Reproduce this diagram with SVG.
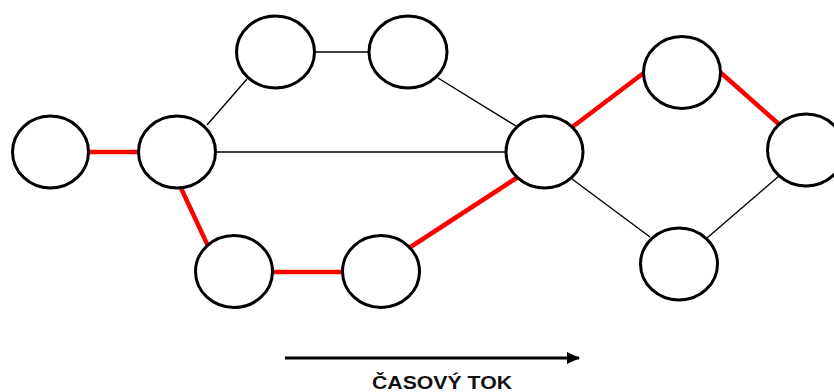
<svg xmlns="http://www.w3.org/2000/svg" width="834" height="392" viewBox="0 0 834 392">
<defs>
<style>
.node{fill:#fff;stroke:#000;stroke-width:3}
.red{stroke:#f00;stroke-width:4.5;fill:none}
.thin{stroke:#000;stroke-width:1.4;fill:none}
.lbl{font-family:"Liberation Sans",Arial,sans-serif;font-weight:bold;font-size:18px;fill:#111}
</style>
<marker id="ah" markerWidth="13" markerHeight="13" refX="12" refY="6.5" orient="auto" markerUnits="userSpaceOnUse"><path d="M0,0.5 L13,6.5 L0,12.5 Z" fill="#000"/></marker>
</defs>
<rect width="834" height="392" fill="#fff"/>
<g id="connectors">
<line class="red" x1="50" y1="152" x2="177" y2="152"/>
<line class="thin" x1="207" y1="125" x2="247" y2="79"/>
<line class="thin" x1="275" y1="52" x2="408" y2="52"/>
<line class="thin" x1="438" y1="78" x2="516" y2="126"/>
<line class="thin" x1="177" y1="152" x2="544" y2="152"/>
<line class="red" x1="180" y1="186" x2="208" y2="246"/>
<line class="red" x1="234" y1="272" x2="381" y2="272"/>
<line class="red" x1="409" y1="248" x2="518" y2="177"/>
<line class="red" x1="571" y1="128" x2="645" y2="72"/>
<line class="red" x1="720" y1="72" x2="781" y2="126"/>
<line class="thin" x1="572" y1="179" x2="650" y2="237"/>
<line class="thin" x1="707" y1="238" x2="779" y2="176"/>
<line x1="285" y1="358" x2="579" y2="358" stroke="#000" stroke-width="3" marker-end="url(#ah)"/>
</g>
<g id="n1"><ellipse class="node" cx="50.5" cy="152" rx="38" ry="36"/></g>
<g id="n2"><ellipse class="node" cx="177" cy="152" rx="38.5" ry="36"/></g>
<g id="n3"><ellipse class="node" cx="275.5" cy="52" rx="39" ry="36"/></g>
<g id="n4"><ellipse class="node" cx="408" cy="52" rx="39" ry="36"/></g>
<g id="n5"><ellipse class="node" cx="544.5" cy="152" rx="38.5" ry="36"/></g>
<g id="n6"><ellipse class="node" cx="682" cy="72.5" rx="38.5" ry="36"/></g>
<g id="n7"><ellipse class="node" cx="806" cy="150" rx="38.5" ry="36"/></g>
<g id="n8"><ellipse class="node" cx="234" cy="271.5" rx="38.5" ry="36"/></g>
<g id="n9"><ellipse class="node" cx="381" cy="271.5" rx="38.5" ry="36"/></g>
<g id="n10"><ellipse class="node" cx="679" cy="264" rx="38.5" ry="36"/></g>
<text class="lbl" x="442" y="389" text-anchor="middle" textLength="140" lengthAdjust="spacingAndGlyphs">ČASOVÝ TOK</text>
</svg>
